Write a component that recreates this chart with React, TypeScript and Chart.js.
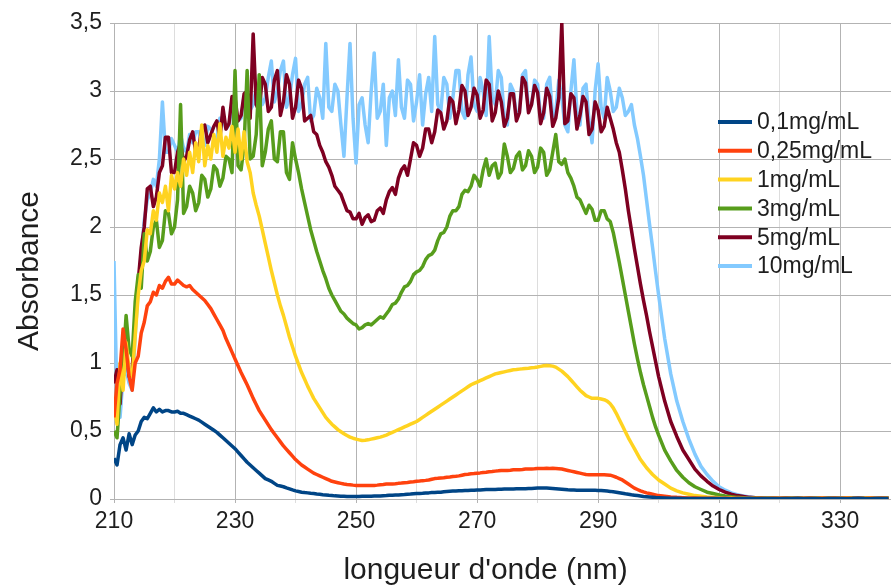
import React, { useEffect, useRef } from 'react';
import { Chart, registerables } from 'chart.js';

Chart.register(...registerables);

// ---------- DATA ----------
const wavelengths = [
  210, 210.5, 211, 211.5, 212, 212.5, 213, 213.5, 214, 214.5, 215, 215.5, 216, 216.5, 217, 217.5, 218, 218.5, 219, 219.5,
  220, 220.5, 221, 221.5, 222, 222.5, 223, 223.5, 224, 224.5, 225, 225.5, 226, 226.5, 227, 227.5, 228, 228.5, 229, 229.5,
  230, 230.5, 231, 231.5, 232, 232.5, 233, 233.5, 234, 234.5, 235, 235.5, 236, 236.5, 237, 237.5, 238, 238.5, 239, 239.5,
  240, 240.5, 241, 241.5, 242, 242.5, 243, 243.5, 244, 244.5, 245, 245.5, 246, 246.5, 247, 247.5, 248, 248.5, 249, 249.5,
  250, 250.5, 251, 251.5, 252, 252.5, 253, 253.5, 254, 254.5, 255, 255.5, 256, 256.5, 257, 257.5, 258, 258.5, 259, 259.5,
  260, 260.5, 261, 261.5, 262, 262.5, 263, 263.5, 264, 264.5, 265, 265.5, 266, 266.5, 267, 267.5, 268, 268.5, 269, 269.5,
  270, 270.5, 271, 271.5, 272, 272.5, 273, 273.5, 274, 274.5, 275, 275.5, 276, 276.5, 277, 277.5, 278, 278.5, 279, 279.5,
  280, 280.5, 281, 281.5, 282, 282.5, 283, 283.5, 284, 284.5, 285, 285.5, 286, 286.5, 287, 287.5, 288, 288.5, 289, 289.5,
  290, 290.5, 291, 291.5, 292, 292.5, 293, 293.5, 294, 294.5, 295, 295.5, 296, 296.5, 297, 297.5, 298, 298.5, 299, 299.5,
  300,
  301, 302, 303, 304, 305, 306, 307, 308, 309,
  310, 311, 312, 313, 314, 315, 316, 317, 318, 319,
  320, 321, 322, 323, 324, 325, 326, 327, 328, 329,
  330, 331, 332, 333, 334, 335, 336, 337, 338,
];

const seriesLabels = ['0,1mg/mL', '0,25mg/mL', '1mg/mL', '3mg/mL', '5mg/mL', '10mg/mL'];

const abs0_1 = [
  0.30, 0.25, 0.40, 0.45, 0.36, 0.48, 0.40, 0.47, 0.50, 0.57, 0.60, 0.59, 0.63, 0.67, 0.64, 0.66, 0.64, 0.65, 0.65, 0.64,
  0.64, 0.645, 0.63, 0.63, 0.62, 0.61, 0.60, 0.59, 0.58, 0.565, 0.55, 0.535, 0.52, 0.505, 0.49, 0.47, 0.45, 0.43, 0.41, 0.39,
  0.37, 0.345, 0.32, 0.295, 0.27, 0.25, 0.23, 0.21, 0.19, 0.17, 0.15, 0.14, 0.13, 0.115, 0.10, 0.095, 0.09, 0.082, 0.075, 0.067,
  0.06, 0.055, 0.05, 0.047, 0.045, 0.042, 0.04, 0.037, 0.035, 0.032, 0.03, 0.027, 0.025, 0.023, 0.022, 0.021, 0.02, 0.019, 0.018, 0.018,
  0.018, 0.019, 0.02, 0.02, 0.02, 0.021, 0.022, 0.022, 0.022, 0.024, 0.025, 0.027, 0.028, 0.029, 0.03, 0.032, 0.033, 0.035, 0.036, 0.038,
  0.04, 0.041, 0.042, 0.044, 0.045, 0.047, 0.048, 0.049, 0.05, 0.053, 0.055, 0.057, 0.058, 0.059, 0.06, 0.061, 0.062, 0.063, 0.064, 0.065,
  0.066, 0.067, 0.068, 0.069, 0.07, 0.07, 0.07, 0.071, 0.072, 0.073, 0.073, 0.074, 0.074, 0.075, 0.075, 0.076, 0.076, 0.077, 0.078, 0.079,
  0.08, 0.08, 0.08, 0.08, 0.079, 0.078, 0.076, 0.074, 0.072, 0.07, 0.068, 0.067, 0.066, 0.065, 0.065, 0.065, 0.065, 0.064, 0.064, 0.064,
  0.063, 0.062, 0.06, 0.058, 0.056, 0.053, 0.05, 0.046, 0.042, 0.038, 0.035, 0.031, 0.028, 0.025, 0.022, 0.019, 0.017, 0.015, 0.013, 0.011,
  0.010,
  0.008, 0.006, 0.005, 0.004, 0.004, 0.003, 0.004, 0.003, 0.004,
  0.003, 0.004, 0.002, 0.004, 0.003, 0.005, 0.002, 0.004, 0.003, 0.004,
  0.002, 0.004, 0.003, 0.005, 0.002, 0.003, 0.004, 0.002, 0.004, 0.003,
  0.004, 0.002, 0.003, 0.005, 0.003, 0.002, 0.004, 0.003, 0.004,
];

const abs0_25 = [
  0.60, 0.85, 0.95, 1.25, 1.10, 0.90, 0.80, 1.00, 1.05, 1.22, 1.30, 1.42, 1.45, 1.52, 1.50, 1.57, 1.55, 1.60, 1.63, 1.58,
  1.58, 1.61, 1.59, 1.57, 1.56, 1.57, 1.54, 1.52, 1.50, 1.48, 1.46, 1.43, 1.40, 1.36, 1.32, 1.28, 1.24, 1.18, 1.13, 1.08,
  1.03, 0.98, 0.93, 0.885, 0.84, 0.79, 0.74, 0.695, 0.65, 0.615, 0.58, 0.545, 0.51, 0.48, 0.45, 0.42, 0.39, 0.365, 0.34, 0.315,
  0.29, 0.27, 0.25, 0.235, 0.22, 0.205, 0.19, 0.18, 0.17, 0.16, 0.15, 0.14, 0.13, 0.125, 0.12, 0.115, 0.11, 0.107, 0.105, 0.102,
  0.10, 0.10, 0.10, 0.10, 0.10, 0.10, 0.10, 0.102, 0.105, 0.107, 0.11, 0.11, 0.11, 0.112, 0.115, 0.117, 0.12, 0.122, 0.125, 0.127,
  0.13, 0.132, 0.135, 0.137, 0.14, 0.145, 0.15, 0.152, 0.155, 0.157, 0.16, 0.162, 0.165, 0.167, 0.17, 0.175, 0.18, 0.182, 0.185, 0.187,
  0.19, 0.192, 0.195, 0.197, 0.20, 0.202, 0.205, 0.207, 0.21, 0.21, 0.21, 0.212, 0.215, 0.215, 0.215, 0.217, 0.22, 0.22, 0.22, 0.222,
  0.225, 0.225, 0.225, 0.226, 0.225, 0.226, 0.225, 0.223, 0.22, 0.215, 0.21, 0.205, 0.20, 0.195, 0.19, 0.185, 0.18, 0.179, 0.178, 0.178,
  0.178, 0.178, 0.178, 0.177, 0.175, 0.168, 0.16, 0.15, 0.14, 0.125, 0.11, 0.095, 0.08, 0.07, 0.06, 0.052, 0.045, 0.04, 0.035, 0.03,
  0.025,
  0.020, 0.015, 0.012, 0.010, 0.008, 0.007, 0.006, 0.005, 0.006,
  0.004, 0.006, 0.003, 0.005, 0.004, 0.006, 0.003, 0.005, 0.004, 0.006,
  0.003, 0.005, 0.004, 0.006, 0.003, 0.005, 0.004, 0.006, 0.003, 0.005,
  0.004, 0.006, 0.003, 0.005, 0.004, 0.006, 0.003, 0.005, 0.004,
];

const abs1 = [
  0.70, 0.55, 1.00, 0.80, 1.15, 0.95, 0.90, 1.20, 1.50, 1.68, 1.75, 1.98, 1.95, 2.12, 2.05, 2.25, 2.18, 2.30, 2.12, 2.38,
  2.28, 2.40, 2.30, 2.50, 2.38, 2.55, 2.40, 2.62, 2.48, 2.75, 2.45, 2.60, 2.50, 2.68, 2.55, 2.76, 2.52, 2.66, 2.58, 2.74,
  2.55, 2.72, 2.50, 2.70, 2.48, 2.40, 2.25, 2.16, 2.08, 1.98, 1.88, 1.78, 1.68, 1.59, 1.50, 1.42, 1.35, 1.27, 1.19, 1.12,
  1.05, 0.99, 0.93, 0.88, 0.83, 0.785, 0.74, 0.705, 0.67, 0.635, 0.60, 0.575, 0.55, 0.53, 0.51, 0.495, 0.48, 0.467, 0.455, 0.447,
  0.44, 0.435, 0.43, 0.432, 0.435, 0.44, 0.445, 0.45, 0.455, 0.462, 0.47, 0.48, 0.49, 0.50, 0.51, 0.52, 0.53, 0.54, 0.55, 0.56,
  0.57, 0.585, 0.60, 0.615, 0.63, 0.645, 0.66, 0.675, 0.69, 0.705, 0.72, 0.735, 0.75, 0.765, 0.78, 0.795, 0.81, 0.825, 0.84, 0.85,
  0.86, 0.87, 0.88, 0.89, 0.90, 0.91, 0.92, 0.925, 0.93, 0.935, 0.94, 0.945, 0.95, 0.952, 0.955, 0.957, 0.96, 0.962, 0.965, 0.967,
  0.97, 0.975, 0.98, 0.982, 0.98, 0.977, 0.97, 0.955, 0.94, 0.92, 0.90, 0.875, 0.85, 0.825, 0.80, 0.78, 0.76, 0.75, 0.74, 0.74,
  0.74, 0.735, 0.73, 0.72, 0.70, 0.67, 0.63, 0.585, 0.54, 0.495, 0.45, 0.41, 0.37, 0.33, 0.29, 0.26, 0.23, 0.205, 0.18, 0.16,
  0.14,
  0.11, 0.08, 0.06, 0.045, 0.035, 0.025, 0.02, 0.015, 0.012,
  0.010, 0.008, 0.007, 0.006, 0.005, 0.007, 0.004, 0.006, 0.005, 0.007,
  0.004, 0.006, 0.005, 0.007, 0.004, 0.006, 0.005, 0.007, 0.004, 0.006,
  0.005, 0.007, 0.004, 0.006, 0.005, 0.007, 0.004, 0.006, 0.005,
];

const abs3 = [
  0.50, 0.45, 0.78, 1.00, 1.35, 1.10, 1.05, 1.45, 1.65, 1.55, 1.95, 1.75, 1.82, 2.00, 2.05, 1.85, 1.90, 2.12, 2.10, 1.95,
  2.00, 2.20, 2.90, 2.10, 2.15, 2.30, 2.25, 2.12, 2.18, 2.38, 2.35, 2.22, 2.28, 2.45, 2.42, 2.30, 2.36, 2.52, 2.50, 2.40,
  3.15, 2.45, 2.42, 2.60, 3.15, 2.50, 2.52, 2.68, 3.12, 2.45, 2.55, 2.72, 2.78, 2.50, 2.48, 2.70, 2.70, 2.40, 2.35, 2.62,
  2.50, 2.40, 2.28, 2.18, 2.08, 1.98, 1.90, 1.82, 1.75, 1.68, 1.62, 1.55, 1.50, 1.46, 1.42, 1.38, 1.36, 1.33, 1.31, 1.29,
  1.28, 1.25, 1.26, 1.28, 1.29, 1.28, 1.30, 1.32, 1.34, 1.33, 1.36, 1.39, 1.43, 1.44, 1.47, 1.52, 1.56, 1.57, 1.60, 1.65,
  1.67, 1.68, 1.71, 1.76, 1.79, 1.80, 1.83, 1.90, 1.95, 1.96, 2.00, 2.08, 2.12, 2.12, 2.15, 2.24, 2.27, 2.26, 2.30, 2.38,
  2.35, 2.30, 2.42, 2.50, 2.38, 2.45, 2.47, 2.36, 2.40, 2.61, 2.52, 2.40, 2.43, 2.52, 2.55, 2.42, 2.45, 2.56, 2.52, 2.40,
  2.44, 2.58, 2.55, 2.38, 2.42, 2.55, 2.68, 2.48, 2.46, 2.50, 2.40, 2.36, 2.30, 2.22, 2.20, 2.15, 2.10, 2.16, 2.13, 2.05,
  2.05, 2.12, 2.12, 2.06, 2.04, 1.96, 1.85, 1.74, 1.62, 1.50, 1.38, 1.26, 1.14, 1.03, 0.93, 0.84, 0.76, 0.68, 0.60, 0.53,
  0.47,
  0.36, 0.28, 0.21, 0.16, 0.12, 0.09, 0.07, 0.05, 0.04,
  0.03, 0.022, 0.016, 0.012, 0.010, 0.008, 0.006, 0.007, 0.005, 0.006,
  0.004, 0.006, 0.005, 0.007, 0.004, 0.006, 0.005, 0.004, 0.006, 0.005,
  0.004, 0.006, 0.005, 0.004, 0.006, 0.005, 0.004, 0.006, 0.005,
];

const abs5 = [
  0.85, 0.95, 0.70, 1.05, 1.10, 0.90, 0.95, 1.30, 1.60, 1.85, 2.00, 2.28, 2.30, 2.15, 2.22, 2.40, 2.45, 2.66, 2.66, 2.40,
  2.40, 2.55, 2.62, 2.48, 2.52, 2.64, 2.70, 2.55, 2.58, 2.72, 2.75, 2.62, 2.68, 2.74, 2.78, 2.65, 2.88, 2.72, 2.76, 2.96,
  2.95, 2.78, 2.82, 2.98, 3.00, 2.80, 3.42, 2.90, 2.85, 3.10, 3.05, 2.85, 2.88, 3.08, 3.15, 2.82, 2.92, 3.12, 3.05, 2.80,
  2.88, 3.08, 3.02, 2.78, 2.80, 2.82, 2.70, 2.68, 2.60, 2.55, 2.48, 2.44, 2.38, 2.30, 2.27, 2.24, 2.18, 2.12, 2.11, 2.06,
  2.06, 2.10, 2.02, 2.07, 2.09, 2.04, 2.05, 2.12, 2.14, 2.10, 2.20, 2.26, 2.29, 2.24, 2.36, 2.42, 2.45, 2.38, 2.50, 2.62,
  2.60, 2.52, 2.58, 2.72, 2.72, 2.62, 2.70, 2.86, 2.84, 2.72, 2.78, 2.95, 2.92, 2.76, 2.86, 3.04, 3.00, 2.82, 2.88, 3.02,
  2.97, 2.80, 2.86, 3.08, 3.05, 2.78, 2.84, 3.00, 2.92, 2.74, 2.80, 2.98, 2.98, 2.78, 2.84, 3.10, 3.06, 2.84, 2.90, 3.04,
  2.99, 2.76, 2.84, 3.02, 2.96, 2.74, 2.80, 2.95, 3.50, 2.76, 2.78, 2.98, 2.95, 2.72, 2.82, 2.96, 2.92, 2.68, 2.72, 2.92,
  2.86, 2.70, 2.74, 2.88, 2.80, 2.72, 2.62, 2.55, 2.42, 2.28, 2.12, 1.98, 1.84, 1.71, 1.58, 1.46, 1.35, 1.23, 1.12, 1.01,
  0.90,
  0.72, 0.57, 0.46, 0.36, 0.29, 0.22, 0.17, 0.13, 0.095,
  0.07, 0.05, 0.035, 0.025, 0.018, 0.012, 0.009, 0.007, 0.006, 0.008,
  0.005, 0.007, 0.006, 0.008, 0.005, 0.007, 0.006, 0.008, 0.005, 0.007,
  0.006, 0.008, 0.005, 0.007, 0.006, 0.008, 0.005, 0.007, 0.006,
];

const abs10 = [
  1.75, 0.70, 0.60, 0.90, 0.95, 0.85, 0.80, 1.20, 1.55, 1.80, 2.05, 2.20, 2.25, 2.35, 2.30, 2.50, 2.92, 2.55, 2.55, 2.65,
  2.60, 2.55, 2.68, 2.58, 2.55, 2.68, 2.62, 2.70, 2.70, 2.62, 2.60, 2.74, 2.72, 2.66, 2.65, 2.80, 2.80, 2.72, 2.75, 2.88,
  2.85, 2.78, 2.80, 2.96, 2.95, 2.86, 2.90, 3.02, 3.00, 2.90, 2.95, 3.10, 3.22, 2.92, 3.00, 3.15, 3.22, 2.88, 2.95, 3.12,
  3.24, 2.85, 2.90, 3.05, 3.10, 2.78, 2.82, 3.02, 2.95, 2.80, 3.35, 2.88, 2.85, 3.05, 3.00, 2.75, 2.52, 2.95, 3.35, 2.80,
  2.47, 2.90, 2.95, 2.75, 2.62, 3.00, 3.28, 2.80, 2.85, 3.05, 2.60, 2.95, 3.00, 2.82, 3.23, 2.88, 2.80, 3.08, 3.05, 2.78,
  2.92, 3.12, 2.75, 2.98, 3.10, 2.85, 3.40, 2.90, 2.85, 3.10, 3.05, 2.80, 2.95, 3.15, 3.15, 2.85, 2.80, 3.12, 3.25, 2.90,
  2.85, 3.10, 3.00, 2.82, 3.40, 2.95, 2.90, 3.15, 3.10, 2.80, 2.75, 3.05, 3.00, 2.82, 2.85, 3.12, 3.15, 2.85, 2.90, 3.08,
  3.05, 2.80, 2.80, 3.05, 3.10, 2.80, 2.85, 3.08, 2.95, 2.75, 2.70, 3.00, 3.23, 2.85, 2.75, 3.02, 3.05, 2.78, 2.62, 3.00,
  3.20, 2.88, 2.80, 3.10, 3.00, 2.85, 2.88, 3.02, 2.95, 2.82, 2.85, 2.90, 2.75, 2.65, 2.52, 2.38, 2.20, 2.02, 1.85, 1.67,
  1.50,
  1.18, 0.92, 0.72, 0.57, 0.44, 0.33, 0.24, 0.18, 0.13,
  0.09, 0.065, 0.045, 0.032, 0.022, 0.015, 0.010, 0.008, 0.006, 0.007,
  0.005, 0.007, 0.006, 0.008, 0.005, 0.007, 0.006, 0.008, 0.005, 0.007,
  0.006, 0.008, 0.005, 0.007, 0.006, 0.008, 0.005, 0.007, 0.006,
];

const seriesValues = [abs0_1, abs0_25, abs1, abs3, abs5, abs10];

const xTickLabels = ['210', '230', '250', '270', '290', '310', '330'];
const yTickLabels = ['0', '0,5', '1', '1,5', '2', '2,5', '3', '3,5'];
const xAxisTitle = "longueur d'onde (nm)";
const yAxisTitle = 'Absorbance';

// ---------- STYLE ----------
const seriesColors = ['#004586', '#ff420e', '#ffd320', '#579d1c', '#7e0021', '#83caff'];
const FONT = '"Liberation Sans", Arial, sans-serif';
const TEXT = '#1e1e1e';
const GRID_MAJOR = '#b3b3b3';
const GRID_MINOR = '#dddddd';

const titlesAndLegend = {
  id: 'titlesAndLegend',
  afterDraw(chart: any) {
    const { ctx } = chart;
    ctx.save();
    ctx.fillStyle = TEXT;
    ctx.font = `30px ${FONT}`;
    ctx.textAlign = 'center';
    ctx.textBaseline = 'alphabetic';
    ctx.fillText(xAxisTitle, 485.5, 579);
    ctx.translate(38, 271);
    ctx.rotate(-Math.PI / 2);
    ctx.fillText(yAxisTitle, 0, 0);
    ctx.restore();

    ctx.save();
    ctx.font = `23px ${FONT}`;
    ctx.textAlign = 'left';
    ctx.textBaseline = 'middle';
    chart.data.datasets.forEach((ds: any, i: number) => {
      const y = 122 + i * 28.8;
      ctx.strokeStyle = ds.borderColor;
      ctx.lineWidth = 4;
      ctx.beginPath();
      ctx.moveTo(718, y);
      ctx.lineTo(752, y);
      ctx.stroke();
      ctx.fillStyle = TEXT;
      ctx.fillText(ds.label, 757, y + 1);
    });
    ctx.restore();
  },
};

export default function App() {
  const canvasRef = useRef<HTMLCanvasElement | null>(null);

  useEffect(() => {
    const canvas = canvasRef.current;
    if (!canvas) return;
    const datasets = seriesValues.map((vals, s) => ({
      label: seriesLabels[s],
      data: vals.map((v, i) => ({ x: wavelengths[i], y: v })),
      borderColor: seriesColors[s],
      backgroundColor: seriesColors[s],
      borderWidth: 3.5,
      pointRadius: 0,
      pointHoverRadius: 0,
      tension: 0,
      fill: false,
      borderJoinStyle: 'round' as const,
    }));

    const chart = new Chart(canvas, {
      type: 'line',
      data: { datasets },
      plugins: [titlesAndLegend],
      options: {
        responsive: false,
        maintainAspectRatio: false,
        animation: false,
        events: [],
        layout: { padding: { top: 23, left: 0, right: 0, bottom: 0 } },
        plugins: {
          legend: { display: false },
          tooltip: { enabled: false },
          title: { display: false },
        },
        scales: {
          x: {
            type: 'linear',
            min: 210,
            max: 338.4,
            afterFit: (scale: any) => { scale.height = 89; },
            ticks: {
              stepSize: 10,
              includeBounds: false,
              autoSkip: false,
              maxRotation: 0,
              padding: 5,
              color: TEXT,
              font: { family: FONT, size: 23 },
              callback: (_v: any, i: number) => (i % 2 === 0 ? xTickLabels[i / 2] : ''),
            },
            grid: {
              color: (c: any) => (c.index % 2 === 0 ? GRID_MAJOR : GRID_MINOR),
              tickLength: 4,
              lineWidth: 1,
            },
            border: { color: GRID_MAJOR, width: 1 },
          },
          y: {
            type: 'linear',
            min: 0,
            max: 3.5,
            afterFit: (scale: any) => { scale.width = 114; },
            ticks: {
              stepSize: 0.5,
              padding: 8,
              color: TEXT,
              font: { family: FONT, size: 23 },
              callback: (_v: any, i: number) => yTickLabels[i],
            },
            grid: { color: GRID_MAJOR, tickLength: 4, lineWidth: 1 },
            border: { color: GRID_MAJOR, width: 1 },
          },
        },
      },
    });
    return () => chart.destroy();
  }, []);

  return (
    <div style={{ position: 'fixed', left: 0, top: 0, width: 891, height: 588, background: '#ffffff', overflow: 'hidden' }}>
      <canvas ref={canvasRef} width={891} height={588} style={{ display: 'block', width: 891, height: 588 }} />
    </div>
  );
}
